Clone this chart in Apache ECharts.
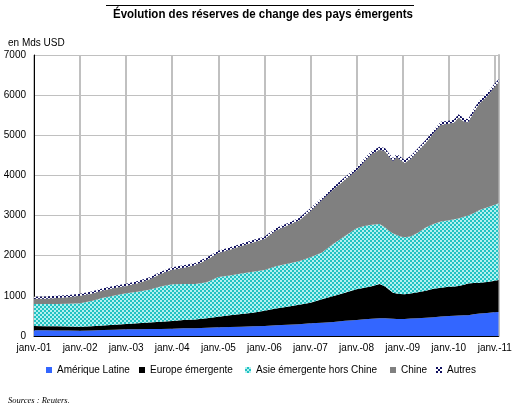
<!DOCTYPE html>
<html><head><meta charset="utf-8">
<script src="https://cdn.jsdelivr.net/npm/echarts/dist/echarts.min.js"></script>
<style>html,body{margin:0;padding:0;background:#fff}#c{width:519px;height:408px}</style>
</head><body><div id="c"></div>
<script>
// Time points (decimal years)
const dates = [2001.0, 2001.25, 2001.5, 2001.75, 2002.0, 2002.25, 2002.5, 2002.75, 2003.0, 2003.25, 2003.5, 2003.75,
  2004.0, 2004.25, 2004.5, 2004.75, 2005.0, 2005.25, 2005.5, 2005.75, 2006.0, 2006.25, 2006.5, 2006.75,
  2007.0, 2007.25, 2007.5, 2007.75, 2008.0, 2008.17, 2008.33, 2008.5, 2008.62, 2008.7, 2008.79, 2008.87, 2008.95,
  2009.04, 2009.17, 2009.33, 2009.5, 2009.67, 2009.83, 2010.0, 2010.12, 2010.21, 2010.33, 2010.42, 2010.54,
  2010.67, 2010.83, 2010.97, 2011.08];
// Reserves, Mds USD
const ameriqueLatine = [145,145,140,135,130,135,150,158,166,170,172,174,180,190,195,205,216,225,232,240,249,265,280,293,
  316,330,350,380,399,415,430,440,440,435,430,425,423,425,435,445,455,470,485,498,505,510,515,520,540,560,575,590,598];
const europeEmergente = [105,100,100,100,102,105,110,122,133,145,163,181,195,210,215,235,266,290,313,340,382,420,450,485,
  514,585,645,700,763,785,810,855,795,725,650,635,622,615,625,645,675,710,720,731,730,735,760,785,778,769,770,780,797];
const asieHorsChine = [547,550,560,570,582,630,690,730,764,785,815,880,915,895,885,900,988,995,1010,1020,1013,1055,1070,1087,
  1130,1165,1305,1410,1521,1540,1530,1495,1465,1460,1475,1456,1435,1418,1420,1480,1570,1610,1645,1656,1675,1685,1695,1695,1742,1810,1855,1890,1911];
const chine = [128,135,145,160,186,185,185,185,182,215,255,310,360,405,465,560,595,640,685,730,771,890,950,1015,
  1155,1305,1355,1405,1442,1605,1765,1852,1900,1855,1797,1943,1912,1852,1929,2030,2108,2267,2415,2400,2410,2513,2373,2320,2508,2661,2766,2913,3009];
const autres = [55,55,55,55,55,55,55,55,55,55,55,55,60,60,60,60,60,60,60,60,60,60,60,60,
  65,65,65,65,75,75,75,75,75,75,75,75,75,75,75,75,75,75,75,80,80,80,80,80,80,80,80,80,80];
const seriesNames = ['Amérique Latine', 'Europe émergente', 'Asie émergente hors Chine', 'Chine', 'Autres'];
const yTicks = [0, 1000, 2000, 3000, 4000, 5000, 6000, 7000];
const xStart = 2001, xEnd = 2011.08;

function toTime(d) {
  const y = Math.floor(d + 1e-9);
  const a = new Date(y, 0, 1).getTime(), b = new Date(y + 1, 0, 1).getTime();
  return a + (d - y) * (b - a);
}
function checker(c1, c2, s) {
  const cv = document.createElement('canvas');
  cv.width = cv.height = 2 * s;
  const g = cv.getContext('2d');
  g.fillStyle = c1; g.fillRect(0, 0, 2 * s, 2 * s);
  g.fillStyle = c2; g.fillRect(0, 0, s, s); g.fillRect(s, s, s, s);
  return { image: cv, repeat: 'repeat' };
}
const cyanPat = checker('#20c2c2', '#b2f0f0', 2);
const navyPat = checker('#ffffff', '#101060', 2);
const colors = ['#3366ff', '#000000', cyanPat, '#808080', navyPat];
const values = [ameriqueLatine, europeEmergente, asieHorsChine, chine, autres];

const FONT = "'Liberation Sans', Arial, sans-serif";
const TITLE = 'Évolution des réserves de change des pays émergents';
const TFONT = "bold 13.5px 'Liberation Sans', Arial, sans-serif";
const mctx = document.createElement('canvas').getContext('2d');
mctx.font = TFONT;
const tScale = 300 / mctx.measureText(TITLE).width;

const chart = echarts.init(document.getElementById('c'), null, { renderer: 'canvas' });
const legendLeft = [46, 139, 245, 390, 436];
const YEAR = 365.25 * 24 * 3600 * 1000;
chart.setOption({
  animation: false,
  backgroundColor: '#fff',
  title: [
    { text: 'en Mds USD', left: 3, top: 33, textStyle: { fontFamily: FONT, fontSize: 10, fontWeight: 'normal', color: '#000' } },
    { text: 'Sources : Reuters.', left: 3, top: 391, textStyle: { fontFamily: "'Liberation Serif', serif", fontSize: 8.5, fontStyle: 'italic', fontWeight: 'normal', color: '#000' } }
  ],
  graphic: [
    { type: 'line', shape: { x1: 106, y1: 5.5, x2: 414, y2: 5.5 }, style: { stroke: '#000', lineWidth: 1 } },
    { type: 'text', x: 263, y: 14, scaleX: tScale, style: { text: TITLE, font: TFONT, fill: '#000', align: 'center', verticalAlign: 'middle' } }
  ],
  legend: seriesNames.map((n, i) => ({
    data: [n], left: legendLeft[i], top: 365, icon: 'rect', itemWidth: 6, itemHeight: 6, selectedMode: false,
    padding: 0, textStyle: { fontFamily: FONT, fontSize: 10, color: '#000' }
  })),
  grid: { left: 34, right: 20.5, top: 55, bottom: 72, containLabel: false },
  xAxis: {
    type: 'time', min: toTime(xStart), max: toTime(xEnd), minInterval: YEAR * 0.98, maxInterval: YEAR * 1.02,
    axisLine: { show: true, onZero: false, lineStyle: { color: '#000', width: 1 } },
    axisTick: { show: false },
    splitLine: { show: true, lineStyle: { color: '#c0c0c0', width: 2 } },
    axisLabel: {
      margin: 7, fontFamily: FONT, fontSize: 10, color: '#000', showMinLabel: true, showMaxLabel: false, hideOverlap: false,
      formatter: v => {
        const d = new Date(v);
        if (d.getMonth() !== 0 || d.getDate() !== 1) return '';
        return 'janv.-' + String(d.getFullYear() % 100).padStart(2, '0');
      }
    }
  },
  yAxis: [{
    type: 'value', min: yTicks[0], max: yTicks[yTicks.length - 1], interval: 1000,
    axisLine: { show: true, lineStyle: { color: '#000', width: 1 } },
    axisTick: { show: false },
    splitLine: { show: true, lineStyle: { color: '#c0c0c0', width: 1 } },
    axisLabel: { margin: 8, fontFamily: FONT, fontSize: 10, color: '#000', formatter: v => String(v) }
  }, {
    type: 'value', position: 'right', min: yTicks[0], max: yTicks[yTicks.length - 1], interval: 1000,
    axisLine: { show: true, lineStyle: { color: '#c0c0c0', width: 2 } },
    axisTick: { show: false }, axisLabel: { show: false }, splitLine: { show: false }
  }],
  series: seriesNames.map((n, i) => ({
    name: n, type: 'line', stack: 'total', symbol: 'none', showSymbol: false, silent: true,
    lineStyle: { width: 0 }, itemStyle: { color: colors[i] },
    areaStyle: { color: colors[i], opacity: 1 },
    data: dates.map((d, k) => [toTime(d), values[i][k]])
  }))
});
</script>
</body></html>
